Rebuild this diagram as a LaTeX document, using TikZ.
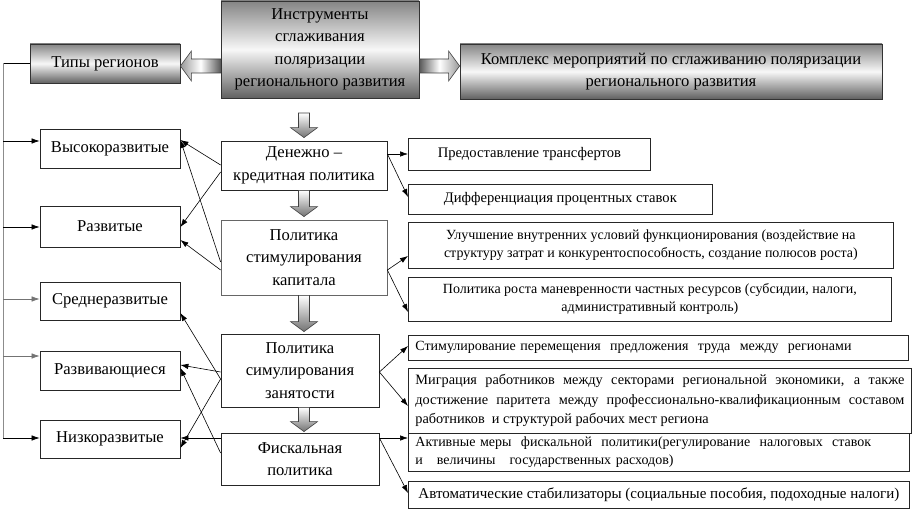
\documentclass[tikz,border=0pt]{standalone}
\usepackage{fontspec}
\setmainfont{Liberation Serif}
\usetikzlibrary{calc,arrows.meta}
\newcommand{\blkdn}[2]{\shade[blk, top color=white, bottom color=black!55]
  ($(#1)+(-5.5,0)$) -- ($(#2)+(-5.5,-10)$) -- ($(#2)+(-13.5,-10)$) -- (#2) --
  ($(#2)+(13.5,-10)$) -- ($(#2)+(5.5,-10)$) -- ($(#1)+(5.5,0)$) -- cycle;}
\begin{document}
\begin{tikzpicture}[x=1pt,y=-1pt,
  box/.style={draw=black!85, line width=0.8pt, inner sep=0pt, align=center,
    font=\fontsize{16.6}{22.5}\selectfont},
  gbox/.style={box, draw=black!80, top color=black!48, bottom color=black!62, middle color=white!97!black},
  rbox/.style={box, font=\fontsize{14}{18.5}\selectfont},
  arr/.style={draw=black, line width=0.6pt, -{Latex[length=8pt,width=5.5pt]}},
  spine/.style={draw=black!45, line width=1pt},
  blk/.style={draw=black!75, line width=0.6pt},
]
\useasboundingbox (0,0) rectangle (912,510);

% top boxes
\node[gbox, minimum width=198pt, minimum height=97pt] (instr) at (320,49.5)
  {Инструменты\\сглаживания\\поляризации\\регионального развития};
\node[gbox, minimum width=150pt, minimum height=39pt] (tipy) at (105,63.5) {Типы регионов};
\node[gbox, minimum width=422pt, minimum height=55pt] (kompl) at (671,71.5)
  {Комплекс мероприятий по сглаживанию поляризации\\регионального развития};

% region types
\node[box, minimum width=140pt, minimum height=39pt] (vys) at (110,148.5) {Высокоразвитые};
\node[box, minimum width=140pt, minimum height=41pt] (razv) at (110,226.5) {Развитые};
\node[box, minimum width=140pt, minimum height=38pt] (sred) at (110,301) {Среднеразвитые};
\node[box, minimum width=140pt, minimum height=39pt] (razvi) at (110,370.5) {Развивающиеся};
\node[box, minimum width=140pt, minimum height=38pt] (nizko) at (110,439) {Низкоразвитые};

% policies
\node[box, minimum width=166pt, minimum height=49pt] (den) at (304,165.5) {Денежно –\\кредитная политика};
\node[box, draw=black!60, minimum width=166pt, minimum height=75pt] (kap) at (304,257.5) {Политика\\стимулирования\\капитала};
\node[box, minimum width=158pt, minimum height=73pt] (zan) at (300,370.5) {Политика\\симулирования\\занятости};
\node[box, minimum width=158pt, minimum height=52pt] (fisk) at (300,459) {Фискальная\\политика};

% measures
\node[rbox, anchor=west, font=\fontsize{14.6}{18.5}\selectfont, minimum width=242pt, minimum height=32pt] (r1) at (408,154) {Предоставление трансфертов};
\node[rbox, anchor=west, font=\fontsize{14.6}{18.5}\selectfont, minimum width=304pt, minimum height=30pt] (r2) at (408,199) {Дифференциация процентных ставок};
\node[rbox, anchor=west, minimum width=485pt, minimum height=46pt] (r3) at (408,245)
  {Улучшение внутренних условий функционирования (воздействие на\\структуру затрат и конкурентоспособность, создание полюсов роста)};
\node[rbox, anchor=west, minimum width=483pt, minimum height=44pt] (r4) at (408,299)
  {Политика роста маневренности частных ресурсов (субсидии, налоги,\\административный контроль)};
\node[rbox, anchor=west, font=\fontsize{14}{18.5}\selectfont, text width=486pt, inner xsep=7pt, align=left, minimum height=25pt] (r5) at (408,347.5)
  {Стимулирование перемещения\ \ предложения\ \ труда\ \ между\ \ регионами};
\node[rbox, anchor=west, font=\fontsize{14}{18.5}\selectfont, text width=487pt, inner xsep=7pt, align=left, minimum height=38pt] (r7) at (408,452)
  {Активные меры\ \ фискальной\ \ политики(регулирование\ \ налоговых\ \ ставок\\и\ \ \ величины\ \ \ государственных расходов)};
\node[rbox, anchor=west, font=\fontsize{14.3}{19.5}\selectfont, text width=489pt, inner xsep=7pt, align=justify, minimum height=65pt] (r6) at (408,400.5)
  {Миграция работников между секторами региональной экономики, а также\linebreak достижение паритета между профессионально-квалификационным составом\linebreak работников\ \ и структурой рабочих мест региона};
\node[rbox, anchor=west, font=\fontsize{15}{18.5}\selectfont, minimum width=501pt, minimum height=27pt] (r8) at (408,494.5)
  {Автоматические стабилизаторы (социальные пособия, подоходные налоги)};

% block arrows (horizontal)
\coordinate (la) at (instr.west |- 0,66);
\coordinate (lt) at (tipy.east |- 0,66);
\shade[blk, left color=black!40, right color=black!65, middle color=white]
  ($(la)+(0,-7)$) -- ($(lt)+(11,-7)$) -- ($(lt)+(11,-15)$) -- (lt) -- ($(lt)+(11,15)$) --
  ($(lt)+(11,7)$) -- ($(la)+(0,7)$) -- cycle;
\coordinate (ra) at (instr.east |- 0,66);
\coordinate (rt) at (kompl.west |- 0,66);
\shade[blk, left color=black!65, right color=black!40, middle color=white]
  ($(ra)+(0,-7)$) -- ($(rt)+(-11,-7)$) -- ($(rt)+(-11,-15)$) -- (rt) -- ($(rt)+(-11,15)$) --
  ($(rt)+(-11,7)$) -- ($(ra)+(0,7)$) -- cycle;

% block arrows (down)
\coordinate (d1s) at (den.north |- 0,113);
\coordinate (d1e) at ($(den.north)+(0,-3)$);
\coordinate (d2s) at (den.south);
\coordinate (d2e) at ($(kap.north)+(0,-3)$);
\coordinate (d3s) at (kap.south);
\coordinate (d3e) at ($(kap.south |- zan.north)+(0,-2)$);
\coordinate (d4s) at (kap.south |- zan.south);
\coordinate (d4e) at ($(kap.south |- fisk.north)+(0,-1)$);
\blkdn{d1s}{d1e}
\blkdn{d2s}{d2e}
\blkdn{d3s}{d3e}
\blkdn{d4s}{d4e}

% left spine
\coordinate (s0) at (tipy.west -| 3,0);
\coordinate (s1) at (3,141);
\coordinate (s2) at (3,227);
\coordinate (s3) at (3,299);
\coordinate (s4) at (3,356);
\coordinate (s5) at (3,438);
\draw[black, line width=0.7pt] (tipy.west) -- (s0);
\draw[spine] (s0) -- (s5);
\draw[arr] (s1) -- (s1 -| vys.west);
\draw[arr] (s2) -- (s2 -| razv.west);
\draw[arr, draw=black!55] (s3) -- (s3 -| sred.west);
\draw[arr, draw=black!55] (s4) -- (s4 -| razvi.west);
\draw[arr] (s5) -- (s5 -| nizko.west);

% policies -> region types
\draw[arr] (den.west |- 0,165) -- (vys.east |- 0,140);
\draw[arr] (den.west |- 0,172) -- (razv.east |- 0,227);
\draw[arr] (kap.west |- 0,262) -- (vys.east |- 0,140);
\draw[arr] (kap.west |- 0,270) -- (razv.east |- 0,240);
\draw[arr] (zan.west |- 0,372) -- (razvi.east |- 0,365);
\draw[arr] (zan.west |- 0,379) -- (sred.east |- 0,313);
\draw[arr] (zan.west |- 0,379) -- (nizko.east |- 0,448);
\draw[arr] (fisk.west |- 0,453) -- (razvi.east |- 0,368);
\draw[arr] (fisk.west |- 0,438) -- (nizko.east |- 0,438);

% policies -> measures
\draw[arr] (den.east |- 0,154) -- (r1.west |- 0,154);
\draw[arr] (den.east |- 0,154) -- (r2.west |- 0,197);
\draw[arr] (kap.east |- 0,270) -- (r3.west |- 0,256);
\draw[arr] (kap.east |- 0,270) -- (r4.west |- 0,312);
\draw[arr] (zan.east |- 0,372) -- (r5.west |- 0,346);
\draw[arr] (zan.east |- 0,372) -- (r6.west |- 0,406);
\draw[arr] (fisk.east |- 0,438) -- (r7.west |- 0,438);
\draw[arr] (fisk.east |- 0,438) -- (r8.west |- 0,493);
\end{tikzpicture}
\end{document}
